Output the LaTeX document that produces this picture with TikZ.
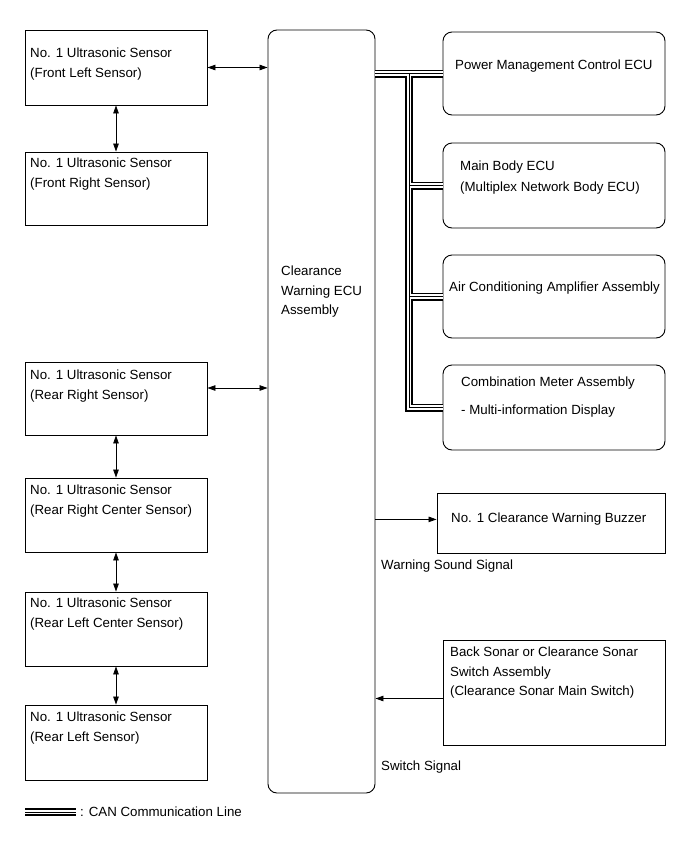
\documentclass[tikz,border=0pt]{standalone}
\usepackage{fontspec}
\setmainfont{Liberation Sans}
\usetikzlibrary{arrows.meta,fit}

\begin{document}
\begin{tikzpicture}[x=1pt,y=-1pt]
\tikzset{sb/.style={draw,line width=0.9pt,inner sep=0pt},
  rb/.style={sb,rounded corners=9pt},
  t/.style={anchor=north west,inner sep=0pt,align=left,font=\fontsize{13.3}{19.5}\selectfont},
  ar/.style={line width=0.8pt,-{Triangle[length=8pt,width=5.5pt]}},
  dar/.style={line width=0.8pt,{Triangle[length=8pt,width=5.5pt]}-{Triangle[length=8pt,width=5.5pt]}},
  can/.style={line width=1pt,preaction={draw,line width=8pt},preaction={draw=white,line width=4.6pt}}}
\fill[white] (0,0) rectangle (691,854);
\useasboundingbox (0,0) rectangle (691,854);

\node[sb,fit={(25,30) (207,105)}] (fl) {};
\node[sb,fit={(25,152) (207,225)}] (fr) {};
\node[sb,fit={(25,362) (207,435)}] (rr) {};
\node[sb,fit={(25,478) (207,552)}] (rrc) {};
\node[sb,fit={(25,592) (207,666)}] (rlc) {};
\node[sb,fit={(25,705) (207,780)}] (rl) {};
\node[rb,fit={(268,30) (375,793)}] (ecu) {};
\node[rb,fit={(443,32) (665,115)}] (pm) {};
\node[rb,fit={(443,143) (665,228)}] (mb) {};
\node[rb,fit={(443,255) (665,338)}] (ac) {};
\node[rb,fit={(443,365) (665,450)}] (cm) {};
\node[sb,fit={(437,493) (665,553)}] (bz) {};
\node[sb,fit={(443,640) (665,745)}] (sw) {};

\node[t] (flt) at (30,48) {No. 1 Ultrasonic Sensor\\(Front Left Sensor)};
\node[t] (frt) at (30,158) {No. 1 Ultrasonic Sensor\\(Front Right Sensor)};
\node[t] (rrt) at (30,370) {No. 1 Ultrasonic Sensor\\(Rear Right Sensor)};
\node[t] (rrct) at (30,485) {No. 1 Ultrasonic Sensor\\(Rear Right Center Sensor)};
\node[t] (rlct) at (30,598) {No. 1 Ultrasonic Sensor\\(Rear Left Center Sensor)};
\node[t] (rlt) at (30,712) {No. 1 Ultrasonic Sensor\\(Rear Left Sensor)};
\node[t] (ecut) at (281,266) {Clearance\\Warning ECU\\Assembly};
\node[t] (pmt) at (455,60) {Power Management Control ECU};
\node[t] (mbt) at (460,161) {Main Body ECU\\[1.5pt](Multiplex Network Body ECU)};
\node[t] (act) at (449,282) {Air Conditioning Amplifier Assembly};
\node[t] (cmt) at (461,377) {Combination Meter Assembly\\[8.5pt]- Multi-information Display};
\node[t] (bzt) at (451,513) {No. 1 Clearance Warning Buzzer};
\node[t] (wst) at (381,560) {Warning Sound Signal};
\node[t] (swt) at (450,647) {Back Sonar or Clearance Sonar\\Switch Assembly\\(Clearance Sonar Main Switch)};
\node[t] (sst) at (381,761) {Switch Signal};

\draw[dar] (fl.east) -- (ecu.west |- fl.east);
\draw[dar] (fl.south) -- (fr.north);
\coordinate (rra) at ([yshift=10.5pt]rr.east);
\draw[dar] (rra) -- (ecu.west |- rra);
\draw[dar] (rr.south) -- (rrc.north);
\draw[dar] (rrc.south) -- (rlc.north);
\draw[dar] (rlc.south) -- (rl.north);
\draw[ar] (ecu.east |- bzt.west) -- (bz.west |- bzt.west);
\coordinate (swa) at ([yshift=-6pt]sw.west);
\draw[ar] (swa) -- (ecu.east |- swa);

\coordinate (bus) at (409,0);
\draw[can] (ecu.east |- pm.west) -- (pm.west)
  (bus |- pm.west) -- (bus |- cm.west) -- (cm.west)
  (bus |- mb.west) -- (mb.west)
  (bus |- ac.west) -- (ac.west);

\coordinate (lga) at (25,812);
\coordinate (lgb) at (76,812);
\draw[can] (lga) -- (lgb);
\node[t,anchor=west] (lgt) at (80,812) {: CAN Communication Line};
\end{tikzpicture}
\end{document}
